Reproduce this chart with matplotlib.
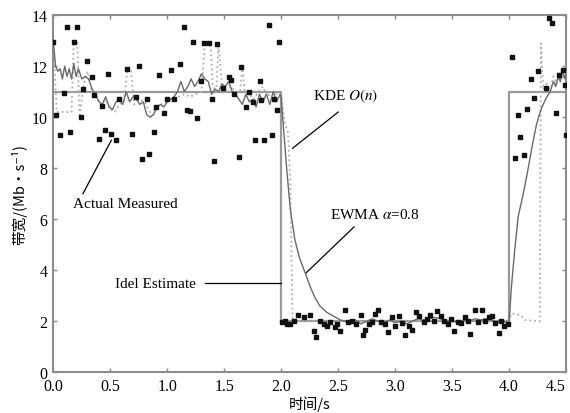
import matplotlib.pyplot as plt

plt.rcParams['mathtext.fontset'] = 'stix'

# ideal estimate (step)
ideal_t = [0.0, 2.0, 2.0, 4.0, 4.0, 4.5]
ideal_v = [11, 11, 2, 2, 11, 11]

# actual measured samples
meas_t = [0.00, 0.02, 0.06, 0.09, 0.12, 0.15, 0.18, 0.21, 0.24, 0.26, 0.30, 0.34, 0.36, 0.40,
          0.43, 0.45, 0.48, 0.51, 0.55, 0.58, 0.645, 0.69, 0.73, 0.75, 0.78, 0.82, 0.84, 0.88,
          0.90, 0.93, 0.97, 1.00, 1.03, 1.06, 1.11, 1.15, 1.17, 1.20, 1.23, 1.26, 1.30, 1.32,
          1.37, 1.39, 1.41, 1.44, 1.49, 1.54, 1.56, 1.59, 1.63, 1.65, 1.69, 1.72, 1.75, 1.77,
          1.81, 1.82, 1.85, 1.89, 1.92, 1.94, 1.96, 1.98,
          2.005, 2.03, 2.05, 2.08, 2.11, 2.15, 2.20, 2.25, 2.29, 2.31, 2.34, 2.38, 2.40, 2.43,
          2.47, 2.49, 2.52, 2.56, 2.59, 2.62, 2.66, 2.70, 2.72, 2.74, 2.77, 2.80, 2.82, 2.85,
          2.88, 2.91, 2.94, 2.97, 3.00, 3.03, 3.06, 3.09, 3.12, 3.15, 3.18, 3.21, 3.25, 3.28,
          3.31, 3.34, 3.37, 3.40, 3.43, 3.46, 3.49, 3.52, 3.55, 3.58, 3.61, 3.64, 3.66, 3.70,
          3.73, 3.76, 3.79, 3.82, 3.85, 3.88, 3.91, 3.93, 3.96, 3.99,
          4.03, 4.05, 4.08, 4.10, 4.13, 4.16, 4.19, 4.22, 4.25, 4.32, 4.35, 4.38, 4.41, 4.44,
          4.47, 4.49, 4.50]
meas_v = [12.95, 10.1, 9.3, 10.96, 13.55, 9.43, 12.95, 13.55, 10.0, 11.1, 12.2, 11.57, 10.86, 9.14,
          10.45, 9.48, 11.7, 9.33, 9.11, 10.7, 11.9, 9.33, 10.8, 12.0, 8.38, 10.7, 8.54, 9.43,
          10.4, 11.65, 10.15, 10.7, 11.85, 10.7, 12.1, 13.54, 10.28, 10.25, 12.95, 9.95, 11.4, 12.9,
          12.9, 10.7, 8.3, 12.85, 11.15, 11.57, 11.45, 10.9, 8.45, 11.97, 10.4, 11.0, 10.6, 9.1,
          11.4, 10.67, 9.1, 13.6, 9.3, 10.7, 10.28, 12.95,
          1.96, 2.0, 1.9, 1.9, 2.0, 2.25, 2.15, 2.25, 1.6, 1.4, 2.0, 1.9, 1.83, 1.96,
          1.76, 1.9, 1.6, 2.45, 1.96, 2.0, 1.9, 2.25, 1.45, 1.64, 1.9, 1.96, 2.3, 2.45,
          1.96, 1.9, 1.57, 2.15, 1.83, 2.22, 1.93, 1.48, 1.83, 1.64, 2.38, 2.22, 1.96, 2.1,
          2.25, 2.0, 2.42, 2.22, 2.0, 1.9, 2.1, 1.6, 1.98, 1.93, 2.18, 2.0, 1.5, 2.45,
          1.96, 2.45, 2.0, 2.15, 2.22, 1.92, 1.53, 2.0, 1.83, 1.9,
          12.37, 8.39, 10.08, 9.23, 8.52, 10.34, 11.5, 10.76, 11.8, 11.13, 13.87, 13.68, 10.15, 11.65,
          11.85, 11.26, 9.3]

# EWMA alpha=0.8
ewma_t = [0.00, 0.02, 0.04, 0.06, 0.08, 0.10, 0.12, 0.14, 0.16, 0.18, 0.20, 0.22, 0.25, 0.28,
          0.31, 0.34, 0.37, 0.40, 0.43, 0.46, 0.49, 0.52, 0.55, 0.58, 0.61, 0.64, 0.67, 0.70,
          0.73, 0.76, 0.79, 0.82, 0.85, 0.88, 0.91, 0.94, 0.97, 1.00, 1.03, 1.06, 1.09, 1.12,
          1.15, 1.18, 1.21, 1.24, 1.27, 1.30, 1.33, 1.36, 1.39, 1.42, 1.45, 1.48, 1.51, 1.54,
          1.57, 1.60, 1.63, 1.66, 1.69, 1.72, 1.75, 1.78, 1.81, 1.84, 1.87, 1.90, 1.93, 1.96,
          1.99, 2.00, 2.02, 2.05, 2.08, 2.12, 2.16, 2.21, 2.26, 2.30, 2.34, 2.40, 2.46, 2.52,
          2.60, 2.65, 2.70, 2.75, 2.80, 2.85, 2.90, 2.95, 3.00, 3.05, 3.10, 3.15, 3.20, 3.25,
          3.30, 3.35, 3.40, 3.45, 3.50, 3.55, 3.60, 3.65, 3.70, 3.75, 3.80, 3.85, 3.90, 3.95,
          4.00, 4.02, 4.05, 4.08, 4.12, 4.16, 4.20, 4.24, 4.28, 4.32, 4.36, 4.39, 4.41, 4.43,
          4.45, 4.47, 4.49, 4.50]
ewma_v = [13.0, 12.0, 11.8, 11.9, 11.5, 12.0, 11.6, 11.9, 11.5, 12.1, 11.6, 11.9, 11.5, 11.6,
          11.5, 11.1, 10.9, 10.6, 10.5, 10.8, 10.4, 10.3, 10.6, 10.7, 10.5, 11.0, 10.6, 10.8,
          10.7, 10.5, 10.6, 10.1, 10.0, 10.1, 10.4, 10.5, 10.4, 10.6, 10.7, 10.8, 11.0, 11.4,
          11.0, 11.2, 11.5, 11.2, 11.4, 11.7, 11.5, 11.4, 10.9, 11.1, 11.0, 11.3, 11.2, 11.4,
          11.0, 10.9, 10.7, 10.5, 10.9, 10.6, 10.7, 10.4, 10.9, 10.6, 10.9, 10.5, 11.0, 10.6,
          10.9, 10.8, 9.6, 7.9, 6.4, 5.2, 4.5, 3.9, 3.3, 2.9, 2.6, 2.35, 2.2, 2.05,
          1.95, 2.05, 1.9, 2.0, 2.1, 2.0, 1.95, 2.05, 1.95, 2.0, 1.9, 2.0, 2.1, 2.05,
          2.1, 2.15, 2.1, 2.0, 2.0, 1.95, 2.05, 2.0, 2.1, 2.05, 2.1, 2.05, 1.95, 2.0,
          1.9, 3.3, 4.8, 6.1, 6.9, 7.8, 8.8, 9.7, 10.3, 10.7, 11.0, 11.4, 11.2, 11.6,
          11.4, 11.8, 11.5, 11.7]

# KDE O(n)
kde_t = [0.00, 0.03, 0.16, 0.18, 0.21, 0.23, 0.26, 0.30, 0.34, 0.38, 0.42, 0.46, 0.50, 0.54,
         0.58, 0.62, 0.65, 0.68, 0.71, 0.75, 0.80, 0.85, 0.90, 0.95, 1.00, 1.05, 1.10, 1.15,
         1.20, 1.25, 1.30, 1.33, 1.38, 1.40, 1.43, 1.45, 1.48, 1.52, 1.56, 1.60, 1.64, 1.66,
         1.68, 1.72, 1.76, 1.80, 1.84, 1.88, 1.92, 1.96, 2.00, 2.03, 2.06, 2.08, 2.10, 2.50,
         3.00, 3.50, 4.00, 4.02, 4.10, 4.14, 4.27, 4.28, 4.30, 4.33, 4.36, 4.39, 4.42, 4.45,
         4.48, 4.50]
kde_v = [13.0, 10.2, 10.2, 13.0, 13.0, 10.0, 11.1, 11.8, 11.0, 10.8, 10.5, 10.7, 10.3, 10.2,
         10.5, 10.6, 11.9, 11.9, 10.5, 10.7, 10.6, 10.2, 10.3, 10.5, 10.6, 10.7, 10.8, 10.9,
         10.8, 10.9, 11.0, 12.9, 12.9, 11.2, 11.0, 12.85, 11.3, 11.0, 11.2, 11.0, 11.0, 12.0,
         11.0, 10.9, 10.7, 11.0, 11.2, 10.8, 11.0, 10.9, 10.9, 9.8, 9.4, 7.5, 2.0, 2.0,
         2.0, 2.0, 2.0, 2.3, 2.25, 2.05, 2.0, 12.9, 11.1, 11.3, 11.0, 11.6, 11.3, 11.8,
         11.5, 12.0]

serif = 'Liberation Serif'
cjk = ['Noto Sans CJK SC', 'DejaVu Sans']

fig = plt.figure(figsize=(5.7, 4.14), dpi=100)
ax = fig.add_axes([0.0935, 0.0983, 0.8995, 0.8627])

ax.plot(ideal_t, ideal_v, color='#9a9a9a', lw=1.6, zorder=2)
ax.plot(kde_t, kde_v, color='#b0b0b0', lw=1.3, ls=':', zorder=3)
ax.plot(ewma_t, ewma_v, color='#6a6a6a', lw=1.0, zorder=4)
ax.plot(meas_t, meas_v, ls='none', marker='s', ms=3.0, color='#111111', zorder=5)

ax.set_xlim(0, 4.5)
ax.set_ylim(0, 14)
ax.set_xticks([0.0, 0.5, 1.0, 1.5, 2.0, 2.5, 3.0, 3.5, 4.0, 4.5])
ax.set_yticks(range(0, 15, 2))
ax.set_xticklabels(['0.0', '0.5', '1.0', '1.5', '2.0', '2.5', '3.0', '3.5', '4.0', '4.5'])
ax.tick_params(direction='in', top=True, right=True, length=3, width=1,
               color='#888888', labelsize=11.5, pad=4)
for lab in ax.get_xticklabels() + ax.get_yticklabels():
    lab.set_fontfamily(serif)
ax.get_xticklabels()[-1].set_horizontalalignment('right')
for sp in ax.spines.values():
    sp.set_color('#8c8c8c')
    sp.set_linewidth(1.5)

ax.set_xlabel('时间/s', family=cjk, fontsize=10.5, labelpad=1)
ax.set_ylabel('带宽/(Mb·s⁻¹)', family=cjk, fontsize=10.5, labelpad=3)

# annotations
ax.text(0.175, 6.6, 'Actual Measured', family=serif, fontsize=11, va='center')
ax.plot([0.26, 0.51], [7.0, 9.1], color='black', lw=0.9)
ax.text(0.545, 3.49, 'Idel Estimate', family=serif, fontsize=11, va='center')
ax.plot([1.335, 1.995], [3.49, 3.49], color='black', lw=0.9)
ax.text(2.28, 10.85, 'KDE $O(n)$', family=serif, fontsize=11, va='center')
ax.plot([2.50, 2.10], [10.2, 8.78], color='black', lw=0.9)
ax.text(2.43, 6.2, 'EWMA $\\alpha$=0.8', family=serif, fontsize=11, va='center')
ax.plot([2.64, 2.215], [5.7, 3.88], color='black', lw=0.9)

fig.savefig('out.png', dpi=100)
